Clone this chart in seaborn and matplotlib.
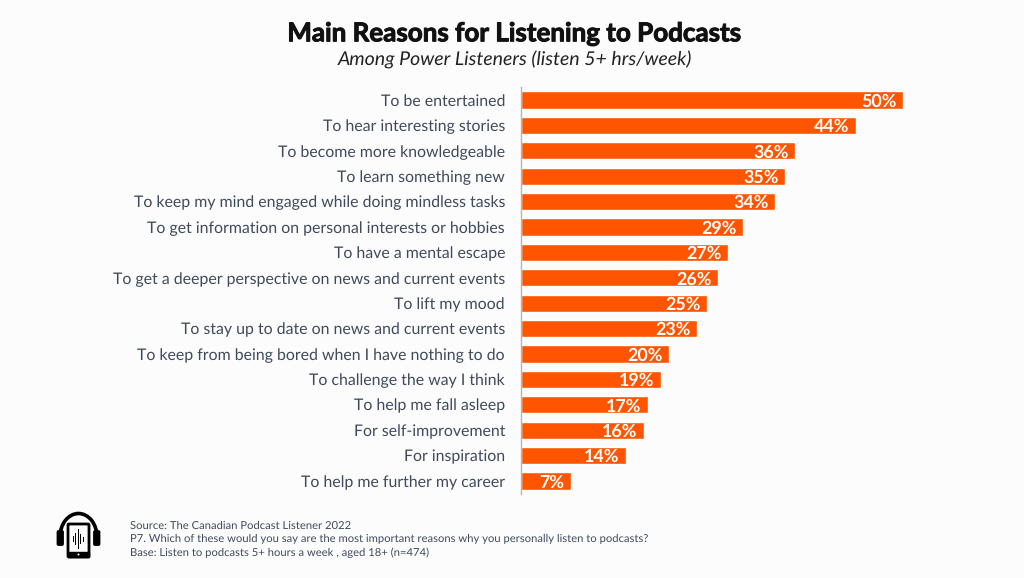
import matplotlib
matplotlib.use("Agg")
import matplotlib.pyplot as plt
import matplotlib.patheffects as pe
from matplotlib.patches import Arc, FancyBboxPatch, Rectangle, Circle
import pandas as pd
import seaborn as sns

reasons = ["To be entertained", "To hear interesting stories", "To become more knowledgeable",
           "To learn something new", "To keep my mind engaged while doing mindless tasks",
           "To get information on personal interests or hobbies", "To have a mental escape",
           "To get a deeper perspective on news and current events", "To lift my mood",
           "To stay up to date on news and current events",
           "To keep from being bored when I have nothing to do", "To challenge the way I think",
           "To help me fall asleep", "For self-improvement", "For inspiration",
           "To help me further my career"]
bar_lengths = [50.0, 43.8, 35.9, 34.6, 33.3, 29.1, 27.1, 25.8, 24.3, 23.0, 19.4, 18.3, 16.6, 16.1, 13.7, 6.5]
shown_labels = [50, 44, 36, 35, 34, 29, 27, 26, 25, 23, 20, 19, 17, 16, 14, 7]
title = "Main Reasons for Listening to Podcasts"
subtitle = "Among Power Listeners (listen 5+ hrs/week)"
notes = ["Source: The Canadian Podcast Listener 2022",
         "P7. Which of these would you say are the most important reasons why you personally listen to podcasts?",
         "Base: Listen to podcasts 5+ hours a week , aged 18+ (n=474)"]
wave_heights = [6, 12, 20, 10, 5]

BG = "#FCFCFC"; ORANGE = "#FF5500"; TEXT = "#3E4A5C"
W, H = 1024, 578
sns.set_theme(style="white")
plt.rcParams["font.family"] = ["Lato", "DejaVu Sans"]
plt.rcParams["text.hinting"] = "no_hinting"

fig = plt.figure(figsize=(W/100, H/100), dpi=100, facecolor=BG)
ax = fig.add_axes([521/W, 1-493.7/H, 400/W, 406.4/H], facecolor="none")
df = pd.DataFrame({"reason": reasons, "value": bar_lengths})
sns.barplot(data=df, x="value", y="reason", orient="h", color=ORANGE, saturation=1, width=0.68, ax=ax)
ax.set_xlim(0, 400/7.64)
ax.set_ylim(15.5, -0.5)
ax.set_xlabel(""); ax.set_ylabel("")
ax.xaxis.set_visible(False)
ax.tick_params(axis="y", length=0, pad=11.5, labelsize=11.4, labelcolor=TEXT)
for s in ["top", "right", "bottom"]:
    ax.spines[s].set_visible(False)
ax.spines["left"].set_color("#B5B5B5"); ax.spines["left"].set_linewidth(1)
for bar, lab in zip(ax.patches, shown_labels):
    ax.annotate(f"{lab}%", (bar.get_width(), bar.get_y()+bar.get_height()/2), xytext=(-4.6, 0),
                textcoords="offset points", ha="right", va="center_baseline",
                color="white", fontsize=12.9, fontweight="bold")

fig.text(514.5/W, 1-34/H, title, ha="center", va="center", fontsize=18.7, fontweight="bold", color="#111111",
         path_effects=[pe.withStroke(linewidth=0.7, foreground="#111111")])
fig.text(514.5/W, 1-60/H, subtitle, ha="center", va="center", fontsize=14, style="italic", color="#222222")
for y, t in zip([525.5, 539, 552.5], notes):
    fig.text(130.5/W, 1-y/H, t, ha="left", va="center", fontsize=8.1, color=TEXT)

# headphone / phone icon
ic = fig.add_axes([0, 0, 1, 1], facecolor="none")
ic.set_xlim(0, W); ic.set_ylim(H, 0); ic.axis("off")
ic.add_patch(Arc((78.5, 537), 37, 47, theta1=180, theta2=360, lw=2.6, color="black"))
ic.add_patch(FancyBboxPatch((58.5, 532), 3.5, 12, boxstyle="round,pad=1.2", fc="black", ec="black"))
ic.add_patch(FancyBboxPatch((95, 532), 3.5, 12, boxstyle="round,pad=1.2", fc="black", ec="black"))
ic.add_patch(FancyBboxPatch((69, 525), 19, 31, boxstyle="round,pad=1", fc=BG, ec="black", lw=2))
ic.add_patch(Rectangle((68, 552), 21, 5, fc="black", ec="black"))
ic.add_patch(Circle((78.5, 554.5), 1, fc="white", ec="none"))
for i, h in enumerate(wave_heights):
    ic.add_patch(Rectangle((72.5+i*2.5, 539-h/2), 1.4, h, fc="black", ec="none"))
fig.savefig("out.png", dpi=100, facecolor=BG)
